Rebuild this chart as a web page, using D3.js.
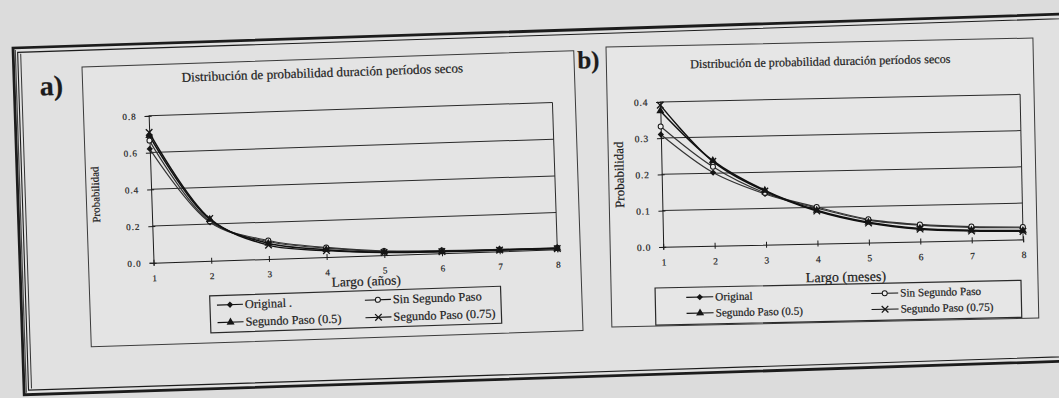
<!DOCTYPE html>
<html>
<head>
<meta charset="utf-8">
<script src="https://cdn.jsdelivr.net/npm/d3@7"></script>
<style>
  body { margin: 0; background: #dcdcdc; }
  svg { display: block; font-family: "Liberation Serif", "Times New Roman", serif; }
  svg text { stroke: #1c1c1c; stroke-width: 0.2px; }
</style>
</head>
<body>
<div id="page"></div>
<script>
// ---- data ----
const largo = [1, 2, 3, 4, 5, 6, 7, 8];
const tituloGrafico = 'Distribución de probabilidad duración períodos secos';
const legendA = ['Original .', 'Sin Segundo Paso', 'Segundo Paso (0.5)', 'Segundo Paso (0.75)'];
const legendB = ['Original', 'Sin Segundo Paso', 'Segundo Paso (0.5)', 'Segundo Paso (0.75)'];
const markerTypes = ['diamond', 'circle', 'triangle', 'x'];

// a) largo en años
const aniosOriginal   = [0.620, 0.210, 0.095, 0.048, 0.020, 0.012, 0.009, 0.007];
const aniosSinSegundo = [0.665, 0.215, 0.100, 0.052, 0.022, 0.014, 0.010, 0.008];
const aniosPaso05     = [0.692, 0.225, 0.085, 0.040, 0.016, 0.010, 0.007, 0.005];
const aniosPaso075    = [0.710, 0.230, 0.075, 0.035, 0.014, 0.008, 0.006, 0.004];

// b) largo en meses
const mesesOriginal   = [0.310, 0.202, 0.140, 0.098, 0.062, 0.045, 0.036, 0.032];
const mesesSinSegundo = [0.332, 0.218, 0.143, 0.101, 0.064, 0.047, 0.038, 0.034];
const mesesPaso05     = [0.375, 0.235, 0.150, 0.092, 0.056, 0.036, 0.028, 0.024];
const mesesPaso075    = [0.391, 0.233, 0.148, 0.090, 0.054, 0.034, 0.026, 0.022];

const yTicksA = [0, 0.2, 0.4, 0.6, 0.8];
const yTicksB = [0, 0.1, 0.2, 0.3, 0.4];

const ink = '#1c1c1c';

const svg = d3.select('#page').append('svg')
  .attr('width', 1059)
  .attr('height', 398);

// outer double frame of the page (scan is slightly tilted)
const frame = svg.append('g').attr('transform', 'translate(13,48) rotate(-1.85)');
frame.append('rect')
  .attr('x', 0).attr('y', 0).attr('width', 1100).attr('height', 347)
  .attr('fill', '#e1e1e1').attr('stroke', ink).attr('stroke-width', 2.8);
frame.append('rect')
  .attr('x', 4.5).attr('y', 4.5).attr('width', 1100).attr('height', 338)
  .attr('fill', 'none').attr('stroke', ink).attr('stroke-width', 1.1);
frame.append('line')
  .attr('x1', 2.2).attr('y1', 2).attr('x2', 2.2).attr('y2', 345)
  .attr('stroke', '#444').attr('stroke-width', 1.2);
frame.append('line')
  .attr('x1', 7.5).attr('y1', 6).attr('x2', 7.5).attr('y2', 341)
  .attr('stroke', '#333').attr('stroke-width', 1);

function marker(sel, type, color) {
  if (type === 'diamond') {
    sel.append('path').attr('d', d3.symbol().type(d3.symbolSquare).size(20)())
      .attr('transform', 'rotate(45)')
      .attr('fill', color);
  } else if (type === 'circle') {
    sel.append('circle').attr('r', 2.5).attr('fill', '#eee').attr('stroke', color).attr('stroke-width', 1);
  } else if (type === 'triangle') {
    sel.append('path').attr('d', d3.symbol().type(d3.symbolTriangle).size(28)()).attr('fill', color);
  } else {
    sel.append('path').attr('d', 'M-3.3,-3.3L3.3,3.3M-3.3,3.3L3.3,-3.3')
      .attr('stroke', color).attr('stroke-width', 1.3).attr('fill', 'none');
  }
}

function drawPanel(cfg) {
  const g = svg.append('g')
    .attr('transform', `translate(${cfg.x},${cfg.y}) rotate(${cfg.angle})`);

  g.append('rect')
    .attr('width', cfg.width).attr('height', cfg.height)
    .attr('fill', cfg.fill).attr('stroke', '#3a3a3a').attr('stroke-width', 1);

  // panel letter
  g.append('text')
    .attr('x', cfg.letterX).attr('y', cfg.letterY)
    .attr('font-size', cfg.letterSize).attr('font-weight', 'bold').attr('fill', ink)
    .text(cfg.letter);

  // title
  g.append('text')
    .attr('x', cfg.titleX).attr('y', cfg.titleY)
    .attr('text-anchor', 'middle').attr('font-size', cfg.titleSize).attr('fill', ink)
    .text(tituloGrafico);

  const p = cfg.plot;
  const x = d3.scaleLinear().domain([1, 8]).range([p.left, p.right]);
  const y = d3.scaleLinear().domain([0, cfg.yMax]).range([p.bottom, p.top]);

  // grid lines
  g.selectAll('.grid')
    .data(cfg.yTicks.filter(d => d > 0))
    .join('line')
    .attr('class', 'grid')
    .attr('x1', p.left).attr('x2', p.right)
    .attr('y1', d => y(d)).attr('y2', d => y(d))
    .attr('stroke', '#2a2a2a').attr('stroke-width', 1);

  // plot area right edge
  g.append('line')
    .attr('x1', p.right).attr('x2', p.right).attr('y1', p.top).attr('y2', p.bottom)
    .attr('stroke', '#2a2a2a').attr('stroke-width', 1);

  // axes
  const axisY = g.append('g')
    .attr('transform', `translate(${p.left},0)`)
    .call(d3.axisLeft(y).tickValues(cfg.yTicks).tickFormat(d3.format('.1f')).tickSizeOuter(0).tickSize(4).tickPadding(8));
  axisY.select('.domain').attr('stroke', ink);
  axisY.selectAll('.tick line').attr('x1', 3).attr('x2', -4).attr('stroke', ink);
  axisY.selectAll('.tick text')
    .attr('font-family', '"Liberation Serif", serif').attr('font-size', cfg.tickSize)
    .attr('letter-spacing', cfg.tickSpacing).attr('fill', ink);

  const axisX = g.append('g')
    .attr('transform', `translate(0,${p.bottom})`)
    .call(d3.axisBottom(x).tickValues(largo).tickFormat(d3.format('d')).tickSizeOuter(0).tickSize(3).tickPadding(cfg.xTickPad));
  axisX.select('.domain').attr('stroke', ink);
  axisX.selectAll('.tick line').attr('y1', -3).attr('y2', 3).attr('stroke', ink);
  axisX.selectAll('.tick text')
    .attr('font-family', '"Liberation Serif", serif').attr('font-size', cfg.tickSize).attr('fill', ink);

  // axis titles
  g.append('text')
    .attr('x', cfg.xTitleX).attr('y', cfg.xTitleY)
    .attr('text-anchor', 'middle').attr('font-size', cfg.xTitleSize).attr('fill', ink)
    .text(cfg.xTitle);
  g.append('text')
    .attr('transform', `translate(${cfg.yTitleX},${cfg.yTitleY}) rotate(-90)`)
    .attr('text-anchor', 'middle').attr('font-size', cfg.yTitleSize).attr('fill', ink)
    .text('Probabilidad');

  // series
  const line = d3.line()
    .x((d, i) => x(largo[i]))
    .y(d => y(d))
    .curve(d3.curveCatmullRom.alpha(0.5));

  g.selectAll('.serie')
    .data(cfg.series)
    .join('path')
    .attr('class', 'serie')
    .attr('d', d => line(d))
    .attr('fill', 'none')
    .attr('stroke', (d, i) => i >= 2 ? '#111' : '#333')
    .attr('stroke-width', (d, i) => i >= 2 ? 1.5 : 1.15);

  cfg.series.forEach((serie, s) => {
    serie.forEach((v, i) => {
      const m = g.append('g').attr('transform', `translate(${x(largo[i])},${y(v)})`);
      marker(m, markerTypes[s], '#151515');
    });
  });

  // legend
  const L = cfg.legend;
  const lg = g.append('g').attr('transform', `translate(${L.x},${L.y})`);
  lg.append('rect')
    .attr('width', L.w).attr('height', L.h)
    .attr('fill', 'none').attr('stroke', '#2a2a2a').attr('stroke-width', 1.2);
  cfg.labels.forEach((lab, i) => {
    const col = i % 2, row = Math.floor(i / 2);
    const x0 = L.cols[col], yy = L.rows[row];
    lg.append('line')
      .attr('x1', x0).attr('x2', x0 + L.lineW).attr('y1', yy).attr('y2', yy)
      .attr('stroke', '#111').attr('stroke-width', 1.1);
    const m = lg.append('g').attr('transform', `translate(${x0 + L.lineW / 2},${yy})`);
    marker(m, markerTypes[i], '#151515');
    lg.append('text')
      .attr('x', x0 + L.lineW + 2).attr('y', yy).attr('dy', '0.33em')
      .attr('font-size', L.size).attr('fill', ink)
      .text(lab);
  });
}

drawPanel({
  letter: 'a)', letterX: -43, letterY: 27, letterSize: 28,
  x: 82, y: 67, angle: -1.9, width: 492, height: 280, fill: '#e4e4e4',
  titleX: 240, titleY: 18, titleSize: 13.2,
  plot: { left: 65, right: 469, top: 51, bottom: 198 },
  yMax: 0.8, yTicks: yTicksA, tickSize: 9, tickSpacing: 1, xTickPad: 9,
  xTitle: 'Largo (años)', xTitleX: 277, xTitleY: 228, xTitleSize: 13.5,
  yTitleX: 13, yTitleY: 128, yTitleSize: 11,
  series: [aniosOriginal, aniosSinSegundo, aniosPaso05, aniosPaso075],
  labels: legendA,
  legend: { x: 120, y: 233, w: 291, h: 37, cols: [7, 155], rows: [9.5, 27], lineW: 26, size: 12.3 }
});

drawPanel({
  letter: 'b)', letterX: -29, letterY: 21, letterSize: 25,
  x: 606, y: 47, angle: -1.2, width: 427, height: 280, fill: '#e6e6e6',
  titleX: 214, titleY: 23, titleSize: 12.2,
  plot: { left: 53, right: 413, top: 56, bottom: 201 },
  yMax: 0.4, yTicks: yTicksB, tickSize: 9.5, tickSpacing: 0.8, xTickPad: 9,
  xTitle: 'Largo (meses)', xTitleX: 235, xTitleY: 239.5, xTitleSize: 14,
  yTitleX: 15, yTitleY: 128, yTitleSize: 13,
  series: [mesesOriginal, mesesSinSegundo, mesesPaso05, mesesPaso075],
  labels: legendB,
  legend: { x: 44, y: 242, w: 366, h: 37, cols: [31, 216], rows: [10, 26], lineW: 27, size: 11.2 }
});
</script>
</body>
</html>
